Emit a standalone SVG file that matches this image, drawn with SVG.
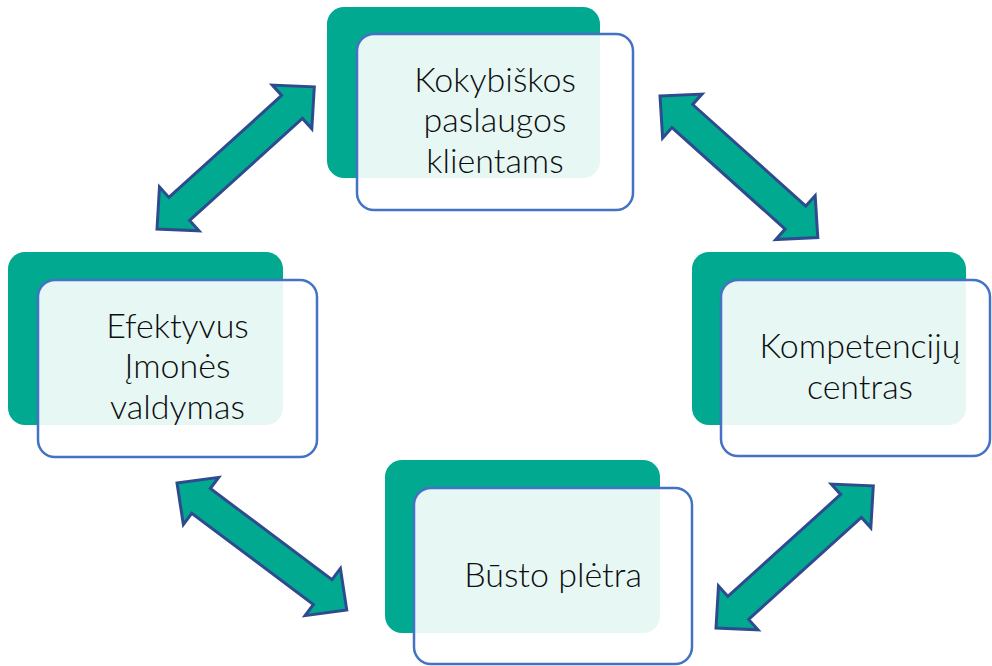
<svg xmlns="http://www.w3.org/2000/svg" width="992" height="666" viewBox="0 0 992 666">
<style>
.back{fill:#00A98F;}
.front{fill:#ffffff;fill-opacity:0.9;stroke:#4472C4;stroke-width:2.5;}
.lbl{font-family:"Lato","Open Sans","Liberation Sans",sans-serif;font-weight:300;font-size:34px;fill:#0d0d0d;text-anchor:middle;}
.arr{fill:#00A98F;stroke:#2F4B8F;stroke-width:3;stroke-linejoin:miter;}
</style>
<defs>
<path id="dbl" d="M0,0 L30,-29.5 L30,-15.5 L182,-15.5 L182,-29.5 L212,0 L182,29.5 L182,15.5 L30,15.5 L30,29.5 Z"/>
</defs>
<g id="connectors">
<use href="#dbl" class="arr" transform="translate(157,229) rotate(-42.1)"/>
<use href="#dbl" class="arr" transform="translate(660,96) rotate(41.9)"/>
<use href="#dbl" class="arr" transform="translate(177,483) rotate(36.8)"/>
<use href="#dbl" class="arr" transform="translate(716,628) rotate(-42.1)"/>
</g>
<g id="node-top">
<rect class="back" x="327" y="7" width="273" height="171" rx="17"/>
<rect class="front" x="357" y="34" width="276" height="176" rx="17"/>
<text class="lbl" x="495" y="92">Kokybiškos</text>
<text class="lbl" x="495" y="132">paslaugos</text>
<text class="lbl" x="495" y="173">klientams</text>
</g>
<g id="node-left">
<rect class="back" x="8" y="252" width="275" height="173" rx="17"/>
<rect class="front" x="38" y="280" width="279" height="177" rx="17"/>
<text class="lbl" x="177.5" y="338">Efektyvus</text>
<text class="lbl" x="177.5" y="378">Įmonės</text>
<text class="lbl" x="177.5" y="419">valdymas</text>
</g>
<g id="node-right">
<rect class="back" x="692" y="252" width="274" height="173" rx="17"/>
<rect class="front" x="721" y="280" width="269" height="176" rx="17"/>
<text class="lbl" x="860" y="358">Kompetencijų</text>
<text class="lbl" x="860" y="399">centras</text>
</g>
<g id="node-bottom">
<rect class="back" x="385" y="460" width="275" height="173" rx="17"/>
<rect class="front" x="414" y="488" width="278" height="176" rx="17"/>
<text class="lbl" x="553" y="587">Būsto plėtra</text>
</g>
</svg>
